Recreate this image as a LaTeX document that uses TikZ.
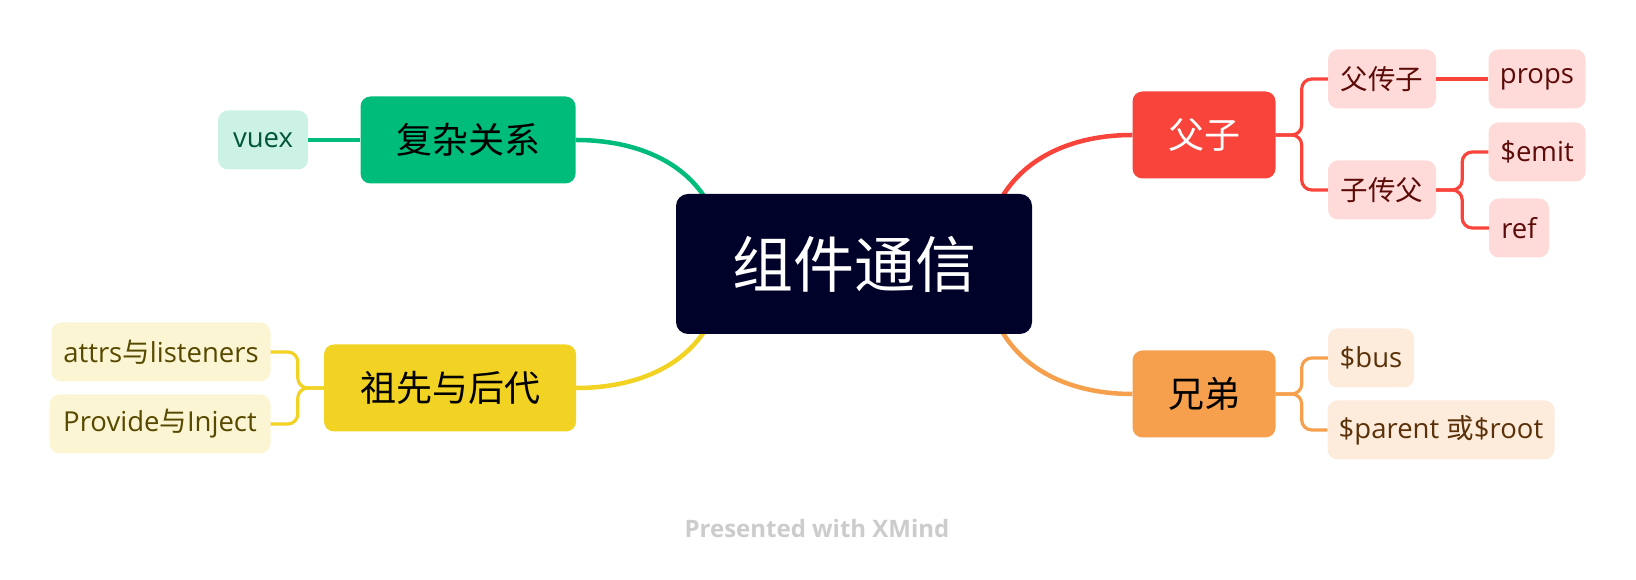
\documentclass[tikz,border=0pt]{standalone}
\usepackage{fontspec}
\setmainfont{Open Sans}
\newfontfamily\cjk{Noto Sans CJK SC}
\usepackage{tikz}
\usetikzlibrary{positioning,backgrounds,calc}
\definecolor{RootNavy}{HTML}{000229}
\definecolor{TopicRed}{HTML}{F9443B}
\definecolor{TopicOrange}{HTML}{F6A04D}
\definecolor{TopicGreen}{HTML}{00BC7B}
\definecolor{TopicYellow}{HTML}{F2D323}
\definecolor{SubRed}{HTML}{FEDBD9}
\definecolor{SubOrange}{HTML}{FDEBDB}
\definecolor{SubGreen}{HTML}{CCF2E5}
\definecolor{SubYellow}{HTML}{FCF5D3}
\definecolor{TextRed}{HTML}{5C0B08}
\definecolor{TextOrange}{HTML}{5A3108}
\definecolor{TextGreen}{HTML}{00553A}
\definecolor{TextYellow}{HTML}{574A00}
\definecolor{FootGray}{HTML}{CCCCCC}

\begin{document}
\begin{tikzpicture}[x=1pt, y=1pt,
  root/.style={
    fill=RootNavy, text=white, rounded corners=12pt,
    minimum width=356pt, minimum height=140pt,
    font=\cjk\fontsize{61}{66}\selectfont
  },
  topic/.style={
    rounded corners=10pt, minimum height=87pt, text=black,
    font=\cjk\fontsize{36}{42}\selectfont
  },
  sub/.style={
    rounded corners=10pt, minimum height=59pt, inner sep=0pt,
    font=\fontsize{27.5}{32}\selectfont
  },
  subred/.style={sub, fill=SubRed, text=TextRed},
  suborange/.style={sub, fill=SubOrange, text=TextOrange},
  subgreen/.style={sub, fill=SubGreen, text=TextGreen},
  subyellow/.style={sub, fill=SubYellow, text=TextYellow},
  curve/.style={line width=4.5pt, looseness=1.1},
  branch/.style={line width=3.2pt, rounded corners=10pt},
]

% ---------- Canvas ----------
\path[use as bounding box] (0,0) rectangle (1636,580);
\begin{scope}[on background layer]
  \fill[white] (0,0) rectangle (1636,580);
\end{scope}

% ---------- Central topic ----------
\node[root] (root) at (854,316) {组件通信};

% ---------- Main topics ----------
\node[topic, fill=TopicGreen, minimum width=215pt]  (cx) at (468,440) {复杂关系};
\node[topic, fill=TopicYellow, minimum width=252pt] (zx) at (450,192) {祖先与后代};
\node[topic, fill=TopicRed, text=white, minimum width=143pt] (fz) at (1204,445) {父子};
\node[topic, fill=TopicOrange, minimum width=143pt] (xd) at (1204,186) {兄弟};

% ---------- Subtopics (left) ----------
\node[subgreen, minimum width=90pt]   (vuex)    at (263,440) {vuex};
\node[subyellow, minimum width=219pt] (attrs)   at (161,228) {attrs{\cjk 与}listeners};
\node[subyellow, minimum width=221pt] (provide) at (160,156) {Provide{\cjk 与}Inject};

% ---------- Subtopics (right) ----------
\node[subred, minimum width=108pt] (fcz)   at (1382,501) {\cjk 父传子};
\node[subred, minimum width=97pt]  (props) at (1537,501) {props};
\node[subred, minimum width=108pt] (zcf)   at (1382,390) {\cjk 子传父};
\node[subred, minimum width=97pt]  (emit)  at (1537,428) {\$emit};
\node[subred, minimum width=60pt]  (ref)   at (1519,352) {ref};
\node[suborange, minimum width=86pt]  (bus)    at (1371,222) {\$bus};
\node[suborange, minimum width=227pt] (parent) at (1441,150) {\$parent {\cjk 或}\$root};

% ---------- Curves from the central topic ----------
\coordinate (rootL) at ($(root.center)+(-131,0)$);
\coordinate (rootR) at ($(root.center)+(131,0)$);
\begin{scope}[on background layer]
  \draw[curve, TopicGreen]  (rootL) to[out=90,in=0]    (cx.east);
  \draw[curve, TopicYellow] (rootL) to[out=-90,in=0]   (zx.east);
  \draw[curve, TopicRed]    (rootR) to[out=90,in=180]  (fz.west);
  \draw[curve, TopicOrange] (rootR) to[out=-90,in=180] (xd.west);
\end{scope}

% ---------- Branches ----------
\draw[branch, TopicGreen] (cx.west) -- (vuex.east);
\foreach \t in {attrs,provide}
  \draw[branch, TopicYellow] (zx.west) -- ++(-26,0) |- (\t.east);
\foreach \t in {fcz,zcf}
  \draw[branch, TopicRed] (fz.east) -- ++(26,0) |- (\t.west);
\draw[branch, TopicRed] (fcz.east) -- (props.west);
\foreach \t in {emit,ref}
  \draw[branch, TopicRed] (zcf.east) -- ++(26,0) |- (\t.west);
\foreach \t in {bus,parent}
  \draw[branch, TopicOrange] (xd.east) -- ++(26,0) |- (\t.west);

% ---------- Footer ----------
\node[font=\bfseries\fontsize{24}{28}\selectfont, text=FootGray] (credit) at (817,51) {Presented with XMind};

\end{tikzpicture}
\end{document}
